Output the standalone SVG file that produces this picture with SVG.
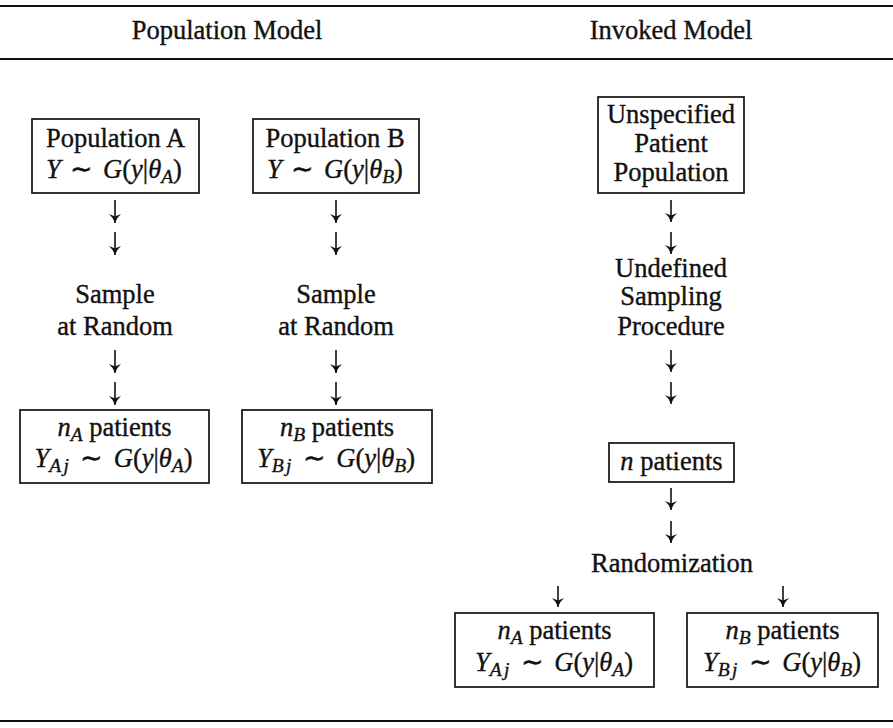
<svg xmlns="http://www.w3.org/2000/svg" width="893" height="728" viewBox="0 0 893 728">
<style>
text{font-family:"Liberation Serif","Times New Roman",serif;font-size:26.5px;fill:#111;stroke:#111;stroke-width:0.35;text-anchor:middle}
.i{font-style:italic}
.s{font-size:19.5px;font-style:italic}
.sj{font-size:19.5px;font-style:italic;letter-spacing:2.5px}
.box{fill:none;stroke:#111;stroke-width:1.7}
.rule{stroke:#111;stroke-width:2}
.arr{stroke:#111;stroke-width:1.6;fill:none;marker-end:url(#head)}
</style>
<defs>
<marker id="head" markerUnits="userSpaceOnUse" markerWidth="14" markerHeight="16" refX="9" refY="0" viewBox="-1 -8 12 16" orient="auto">
<path d="M9,0 Q4,1.4 0,6 L2.5,0 L0,-6 Q4,-1.4 9,0 Z" fill="#111"/>
</marker>
</defs>
<g id="frame">
<line class="rule" x1="0" y1="6" x2="893" y2="6"/>
<line class="rule" x1="0" y1="59" x2="893" y2="59"/>
<line class="rule" x1="0" y1="721" x2="893" y2="721"/>
<text x="227" y="39">Population Model</text>
<text x="671" y="39">Invoked Model</text>
</g>
<g id="popA">
<rect class="box" x="32" y="119" width="167" height="74"/>
<text x="115.5" y="147">Population A</text>
<text x="114" y="178"><tspan class="i">Y</tspan><tspan dx="3"> ∼ </tspan><tspan class="i" dx="3">G</tspan>(<tspan class="i">y</tspan>|<tspan class="i">θ</tspan><tspan class="s" dy="5">A</tspan><tspan dy="-5">)</tspan></text>
</g>
<g id="popB">
<rect class="box" x="253" y="119" width="166" height="74"/>
<text x="335" y="147">Population B</text>
<text x="335" y="178"><tspan class="i">Y</tspan><tspan dx="3"> ∼ </tspan><tspan class="i" dx="3">G</tspan>(<tspan class="i">y</tspan>|<tspan class="i">θ</tspan><tspan class="s" dy="5">B</tspan><tspan dy="-5">)</tspan></text>
</g>
<g id="sampleA">
<text x="115" y="303">Sample</text>
<text x="115" y="335">at Random</text>
</g>
<g id="sampleB">
<text x="336" y="303">Sample</text>
<text x="336" y="335">at Random</text>
</g>
<g id="nA">
<rect class="box" x="20" y="410" width="189" height="73"/>
<text x="114.5" y="436"><tspan class="i">n</tspan><tspan class="s" dy="5">A</tspan><tspan dy="-5"> patients</tspan></text>
<text x="113.5" y="467"><tspan class="i">Y</tspan><tspan class="sj" dy="5">Aj</tspan><tspan dy="-5" dx="2"> ∼ </tspan><tspan class="i" dx="4">G</tspan>(<tspan class="i">y</tspan>|<tspan class="i">θ</tspan><tspan class="s" dy="5">A</tspan><tspan dy="-5">)</tspan></text>
</g>
<g id="nB">
<rect class="box" x="242" y="410" width="190" height="73"/>
<text x="337" y="436"><tspan class="i">n</tspan><tspan class="s" dy="5">B</tspan><tspan dy="-5"> patients</tspan></text>
<text x="336" y="467"><tspan class="i">Y</tspan><tspan class="sj" dy="5">Bj</tspan><tspan dy="-5" dx="2"> ∼ </tspan><tspan class="i" dx="4">G</tspan>(<tspan class="i">y</tspan>|<tspan class="i">θ</tspan><tspan class="s" dy="5">B</tspan><tspan dy="-5">)</tspan></text>
</g>
<g id="unspecified">
<rect class="box" x="598" y="97" width="146" height="96"/>
<text x="671" y="123">Unspecified</text>
<text x="671" y="152">Patient</text>
<text x="671" y="181">Population</text>
</g>
<g id="undefined">
<text x="671" y="277">Undefined</text>
<text x="671" y="305">Sampling</text>
<text x="671" y="335">Procedure</text>
</g>
<g id="n">
<rect class="box" x="609" y="443" width="125" height="39"/>
<text x="671.5" y="470"><tspan class="i">n</tspan> patients</text>
</g>
<g id="randomization">
<text x="672" y="572">Randomization</text>
</g>
<g id="nA2">
<rect class="box" x="455" y="613" width="199" height="74"/>
<text x="554.5" y="639"><tspan class="i">n</tspan><tspan class="s" dy="5">A</tspan><tspan dy="-5"> patients</tspan></text>
<text x="554" y="671"><tspan class="i">Y</tspan><tspan class="sj" dy="5">Aj</tspan><tspan dy="-5" dx="2"> ∼ </tspan><tspan class="i" dx="4">G</tspan>(<tspan class="i">y</tspan>|<tspan class="i">θ</tspan><tspan class="s" dy="5">A</tspan><tspan dy="-5">)</tspan></text>
</g>
<g id="nB2">
<rect class="box" x="687" y="613" width="191" height="74"/>
<text x="782.5" y="639"><tspan class="i">n</tspan><tspan class="s" dy="5">B</tspan><tspan dy="-5"> patients</tspan></text>
<text x="782" y="671"><tspan class="i">Y</tspan><tspan class="sj" dy="5">Bj</tspan><tspan dy="-5" dx="2"> ∼ </tspan><tspan class="i" dx="4">G</tspan>(<tspan class="i">y</tspan>|<tspan class="i">θ</tspan><tspan class="s" dy="5">B</tspan><tspan dy="-5">)</tspan></text>
</g>
<g id="connectors">
<line class="arr" x1="115" y1="200" x2="115" y2="223"/>
<line class="arr" x1="115" y1="232" x2="115" y2="255"/>
<line class="arr" x1="115" y1="350" x2="115" y2="373"/>
<line class="arr" x1="115" y1="382" x2="115" y2="405"/>
<line class="arr" x1="336" y1="200" x2="336" y2="223"/>
<line class="arr" x1="336" y1="232" x2="336" y2="255"/>
<line class="arr" x1="336" y1="350" x2="336" y2="373"/>
<line class="arr" x1="336" y1="382" x2="336" y2="405"/>
<line class="arr" x1="671" y1="200" x2="671" y2="222"/>
<line class="arr" x1="671" y1="232" x2="671" y2="254"/>
<line class="arr" x1="671" y1="350" x2="671" y2="372"/>
<line class="arr" x1="671" y1="382" x2="671" y2="404"/>
<line class="arr" x1="671" y1="488" x2="671" y2="510"/>
<line class="arr" x1="671" y1="521" x2="671" y2="543"/>
<line class="arr" x1="558" y1="586" x2="558" y2="607"/>
<line class="arr" x1="783" y1="586" x2="783" y2="607"/>
</g>
</svg>
